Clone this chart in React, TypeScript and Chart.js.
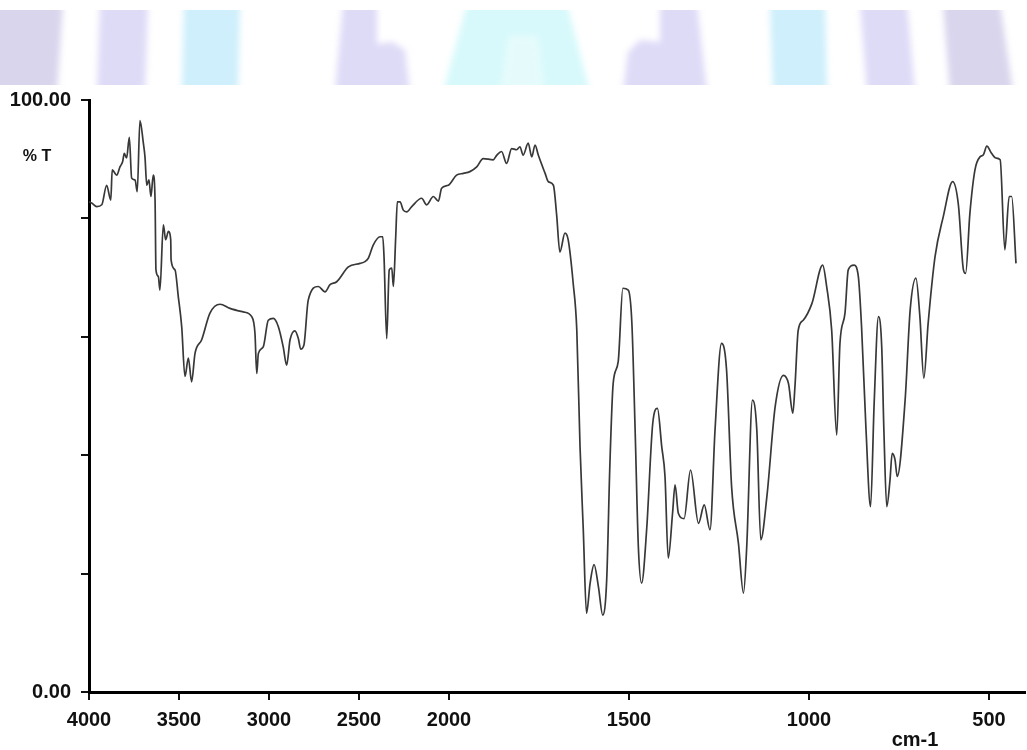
import React, { useEffect, useRef } from "react";
import { Chart, registerables } from "chart.js";

Chart.register(...registerables);

// IR spectrum: wavenumber (cm-1) and %T
const wavenumbers: number[] = [
  4000, 3985, 3957, 3929, 3902, 3879, 3871, 3846, 3828, 3813, 3804, 3791, 3776, 3763, 3744, 3732,
  3717, 3698, 3689, 3679, 3667, 3656, 3643, 3633, 3628, 3615, 3606, 3587, 3574, 3559, 3546, 3544,
  3522, 3504, 3485, 3467, 3448, 3430, 3411, 3374, 3328, 3272, 3217, 3143, 3096, 3078, 3068, 3059,
  3032, 3004, 2976, 2948, 2921, 2902, 2883, 2856, 2837, 2824, 2806, 2782, 2726, 2689, 2661, 2624,
  2559, 2494, 2467, 2448, 2421, 2383, 2368, 2361, 2346, 2332, 2318, 2309, 2296, 2287, 2272, 2254,
  2235, 2207, 2152, 2124, 2087, 2059, 2041, 2004, 1979, 1960, 1942, 1923, 1905, 1877, 1867, 1854,
  1840, 1826, 1812, 1803, 1794, 1780, 1770, 1761, 1752, 1733, 1724, 1710, 1701, 1692, 1678, 1669,
  1655, 1645, 1636, 1627, 1618, 1608, 1597, 1585, 1573, 1562, 1553, 1544, 1530, 1517, 1502, 1492,
  1483, 1474, 1465, 1451, 1434, 1421, 1409, 1400, 1391, 1379, 1372, 1363, 1347, 1329, 1307, 1291,
  1275, 1261, 1243, 1229, 1215, 1196, 1182, 1173, 1157, 1145, 1134, 1117, 1094, 1071, 1057, 1045,
  1039, 1030, 1016, 992, 962, 951, 937, 923, 914, 900, 891, 875, 863, 854, 842, 829,
  819, 807, 798, 792, 784, 775, 769, 761, 755, 733, 719, 703, 692, 681, 669, 650,
  627, 601, 585, 571, 565, 553, 539, 525, 516, 506, 493, 481, 469, 456, 444, 437,
  425,
];

const transmittance: number[] = [
  82.8, 82.6, 82.0, 82.3, 85.6, 83.1, 88.2, 87.3, 88.7, 89.6, 91.0, 90.2, 93.7, 86.8, 86.5, 84.5,
  96.5, 92.7, 90.4, 85.6, 86.5, 83.7, 87.3, 83.1, 71.3, 70.2, 67.9, 78.9, 76.4, 77.8, 76.4, 73.0,
  71.3, 66.8, 61.7, 53.3, 56.4, 52.4, 57.2, 59.5, 64.0, 65.5, 64.8, 64.2, 63.4, 60.6, 53.8, 57.2,
  58.3, 62.8, 63.1, 61.7, 58.3, 55.2, 59.5, 61.0, 59.7, 57.9, 58.6, 66.2, 68.5, 67.6, 68.8, 69.3,
  71.8, 72.4, 72.7, 73.3, 75.5, 76.9, 76.9, 73.5, 59.7, 71.3, 71.6, 68.5, 76.9, 82.8, 82.8, 81.4,
  81.1, 82.0, 83.4, 82.3, 83.7, 82.9, 85.1, 85.6, 87.3, 87.6, 87.9, 88.7, 90.1, 89.9, 90.7, 91.3,
  89.3, 91.8, 91.6, 92.1, 90.7, 92.7, 90.4, 92.4, 90.7, 87.6, 86.2, 85.6, 80.6, 74.3, 77.5, 76.4,
  69.0, 61.1, 41.4, 27.4, 13.3, 18.4, 21.5, 17.8, 13.0, 18.9, 38.6, 52.1, 55.8, 68.2, 67.9, 62.3,
  44.3, 24.5, 18.4, 27.4, 45.4, 47.9, 41.4, 36.4, 22.6, 30.2, 35.0, 30.2, 29.3, 37.5, 28.5, 31.6,
  27.4, 44.3, 58.9, 54.4, 34.7, 25.1, 16.7, 24.5, 49.3, 44.3, 25.7, 33.0, 48.2, 53.5, 52.1, 47.1,
  51.6, 61.1, 62.8, 65.6, 72.1, 68.5, 61.1, 43.4, 58.9, 64.0, 71.3, 72.1, 70.2, 61.7, 44.8, 31.3,
  48.8, 63.4, 58.3, 44.3, 31.3, 35.8, 40.3, 39.2, 36.4, 49.3, 64.5, 69.9, 63.4, 53.0, 62.3, 73.5,
  80.3, 86.2, 82.3, 71.3, 70.7, 80.9, 88.2, 90.4, 90.7, 92.2, 91.0, 90.2, 89.9, 74.7, 83.7, 83.7,
  72.4,
];

const xTickValues: number[] = [4000, 3500, 3000, 2500, 2000, 1500, 1000, 500];
const yTickValues: number[] = [0, 20, 40, 60, 80, 100];
const yTickLabels: Record<number, string> = { 0: "0.00", 100: "100.00" };
const X_MIN_WN = 4000;
const X_MAX_WN = 400;

// Axis scale changes at 2000 cm-1 (double expansion below 2000)
const toU = (wn: number) => (wn >= 2000 ? 4000 - wn : 2000 + 2 * (2000 - wn));
const fromU = (u: number) => (u <= 2000 ? 4000 - u : 2000 - (u - 2000) / 2);

const FONT = "'Liberation Sans', Arial, sans-serif";

const decorPlugin = {
  id: "decor",
  beforeDraw(chart: any) {
    const ctx = chart.ctx as CanvasRenderingContext2D;
    ctx.save();
    ctx.beginPath();
    ctx.rect(0, 10, 1027, 75);
    ctx.clip();
    ctx.filter = "blur(3px)";
    const top = 4;
    const bot = 92;
    const lav = "rgba(214,210,245,0.8)";
    const lav2 = "rgba(210,206,234,0.85)";
    const cyan = "rgba(198,236,250,0.85)";
    const cyan2 = "rgba(208,248,250,0.85)";
    const cyanIn = "rgba(232,252,252,0.9)";
    const poly = (pts: number[][], color: string) => {
      ctx.fillStyle = color;
      ctx.beginPath();
      pts.forEach((p, i) => (i === 0 ? ctx.moveTo(p[0], p[1]) : ctx.lineTo(p[0], p[1])));
      ctx.closePath();
      ctx.fill();
    };
    poly([[-10, top], [63, top], [57, bot], [-10, bot]], lav2);
    poly([[100, top], [148, top], [145, bot], [97, bot]], lav);
    poly([[184, top], [240, top], [238, bot], [182, bot]], cyan);
    poly([[343, top], [377, top], [377, 44], [392, 42], [405, 50], [410, bot], [335, bot]], lav);
    poly([[467, top], [567, top], [590, bot], [443, bot]], cyan2);
    poly([[508, 36], [538, 36], [545, bot], [500, bot]], cyanIn);
    poly([[660, top], [697, top], [707, bot], [623, bot], [628, 52], [640, 40], [660, 42]], lav);
    poly([[770, top], [825, top], [827, bot], [773, bot]], cyan);
    poly([[860, top], [907, top], [915, bot], [867, bot]], lav);
    poly([[943, top], [1000, top], [1013, bot], [950, bot]], lav2);
    ctx.restore();
  },
  afterDraw(chart: any) {
    const ctx = chart.ctx as CanvasRenderingContext2D;
    ctx.save();
    ctx.fillStyle = "#111";
    ctx.textBaseline = "middle";
    ctx.textAlign = "center";
    ctx.font = `bold 16px ${FONT}`;
    ctx.fillText("% T", 37, 157);
    ctx.font = `bold 20px ${FONT}`;
    ctx.fillText("cm-1", 915, 740);
    ctx.restore();
  },
};

export default function App() {
  const canvasRef = useRef<HTMLCanvasElement | null>(null);

  useEffect(() => {
    document.body.style.margin = "0";
    const canvas = canvasRef.current;
    if (!canvas) return;
    const points = wavenumbers.map((wn, i) => ({ x: toU(wn), y: transmittance[i] }));
    const chart = new Chart(canvas, {
      type: "line",
      data: {
        datasets: [
          {
            data: points,
            borderColor: "#383838",
            borderWidth: 1.7,
            pointRadius: 0,
            tension: 0,
            cubicInterpolationMode: "monotone",
            fill: false,
          },
        ],
      },
      options: {
        animation: false,
        responsive: false,
        devicePixelRatio: 1,
        layout: { padding: { left: 0, top: 100, right: 2, bottom: 0 } },
        plugins: { legend: { display: false }, tooltip: { enabled: false } },
        scales: {
          x: {
            type: "linear",
            min: toU(X_MIN_WN),
            max: toU(X_MAX_WN),
            afterBuildTicks: (scale: any) => {
              scale.ticks = xTickValues.map((wn) => ({ value: toU(wn) }));
            },
            afterFit: (scale: any) => {
              scale.height = 58;
            },
            ticks: {
              autoSkip: false,
              maxRotation: 0,
              padding: 8,
              color: "#111",
              font: { family: FONT, size: 20, weight: "bold" },
              callback: (v: any) => String(Math.round(fromU(Number(v)))),
            },
            grid: {
              display: true,
              drawOnChartArea: false,
              drawTicks: true,
              tickLength: 8,
              color: "#111",
              lineWidth: 2,
            },
            border: { display: true, color: "#000", width: 3 },
          },
          y: {
            type: "linear",
            min: 0,
            max: 100,
            afterBuildTicks: (scale: any) => {
              scale.ticks = yTickValues.map((v) => ({ value: v }));
            },
            afterFit: (scale: any) => {
              scale.width = 89;
            },
            ticks: {
              autoSkip: false,
              padding: 10,
              color: "#111",
              font: { family: FONT, size: 20, weight: "bold" },
              callback: (v: any) => yTickLabels[Number(v)] ?? "",
            },
            grid: {
              display: true,
              drawOnChartArea: false,
              drawTicks: true,
              tickLength: 8,
              color: "#111",
              lineWidth: 2,
            },
            border: { display: true, color: "#000", width: 3 },
          },
        },
      },
      plugins: [decorPlugin],
    } as any);
    return () => chart.destroy();
  }, []);

  return (
    <div style={{ width: 1027, height: 750, background: "#fff" }}>
      <canvas ref={canvasRef} width={1027} height={750} style={{ display: "block" }} />
    </div>
  );
}
